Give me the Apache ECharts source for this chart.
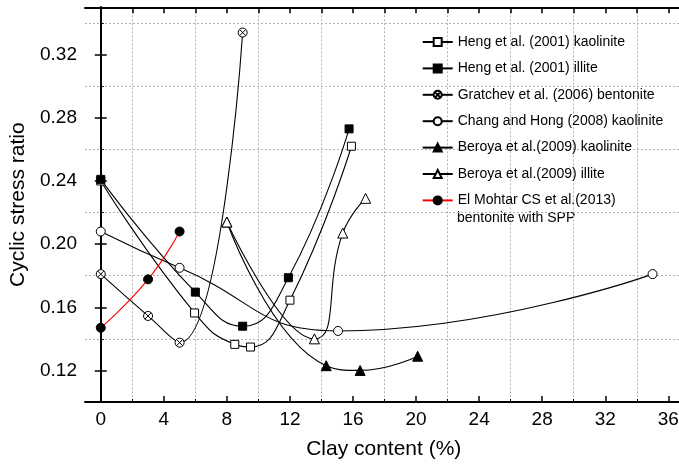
<!DOCTYPE html>
<html>
<head>
<meta charset="utf-8">
<script src="https://cdn.jsdelivr.net/npm/echarts@6/dist/echarts.min.js"></script>
<style>
  html, body { margin: 0; padding: 0; background: #fff; }
  #chart { width: 679px; height: 464px; }
</style>
</head>
<body>
<div id="chart"></div>
<script>
// axis ticks
const xLabelTicks = [0, 4, 8, 12, 16, 20, 24, 28, 32, 36];
const xTopTicks = [0, 2, 4, 6, 8, 10, 12, 14, 16, 18, 20, 22, 24, 26, 28, 30, 32, 34, 36];
const xGridLines = [2, 6, 10, 14, 18, 22, 26, 30, 34];
const yLabelTicks = [0.12, 0.16, 0.20, 0.24, 0.28, 0.32];
const yGridLines = [0.14, 0.18, 0.22, 0.26, 0.30, 0.34];

// series data (clay content %, cyclic stress ratio)
const hengKaoX = [0, 5.95, 8.5, 9.5, 12, 15.9];
const hengKaoY = [0.240, 0.1564, 0.1365, 0.1348, 0.1645, 0.262];
const hengIllX = [0, 6, 9, 11.9, 15.75];
const hengIllY = [0.241, 0.1696, 0.148, 0.1787, 0.273];
const gratchevX = [0, 3, 5, 9];
const gratchevY = [0.181, 0.1545, 0.1376, 0.334];
const changX = [0, 5, 15.05, 35];
const changY = [0.208, 0.185, 0.145, 0.181];
const beroyaKaoX = [8, 14.3, 16.45, 20.1];
const beroyaKaoY = [0.214, 0.123, 0.120, 0.129];
const beroyaIllX = [8, 13.55, 15.35, 16.8];
const beroyaIllY = [0.214, 0.140, 0.207, 0.229];
const elMohtarX = [0, 3, 5];
const elMohtarY = [0.147, 0.1777, 0.208];

const names = [
  'Heng et al. (2001) kaolinite',
  'Heng et al. (2001) illite',
  'Gratchev et al. (2006) bentonite',
  'Chang and Hong (2008) kaolinite',
  'Beroya et al.(2009) kaolinite',
  'Beroya et al.(2009) illite',
  'El Mohtar CS et al.(2013)'
];
const lastLegendLine2 = 'bentonite with SPP';

const font = 'Liberation Sans, Arial, sans-serif';
const crossCircle = 'path://M10,0A10,10,0,1,1,-10,0A10,10,0,1,1,10,0ZM7.07,7.07L-7.07,-7.07M-7.07,7.07L7.07,-7.07';

function pairs (xs, ys) {
  return xs.map((x, i) => [x, ys[i]]);
}

function makeSeries (name, xs, ys, symbol, size, fill, lineColor) {
  return {
    name: name,
    type: 'line',
    xAxisIndex: 0,
    yAxisIndex: 0,
    smooth: true,
    data: pairs(xs, ys),
    symbol: symbol,
    symbolSize: size,
    showAllSymbol: true,
    lineStyle: { color: lineColor || '#000', width: 1.1 },
    itemStyle: { color: fill, borderColor: '#000', borderWidth: 1 },
    emphasis: { disabled: true },
    z: 3
  };
}

const chart = echarts.init(document.getElementById('chart'));
const option = {
  backgroundColor: '#fff',
  animation: false,
  grid: { left: 85, right: -3.5, top: 7.3, bottom: 62, containLabel: false, outerBoundsMode: 'none' },
  legend: {
    orient: 'vertical',
    left: 421.7,
    top: 35,
    padding: 0,
    itemWidth: 30,
    itemHeight: 10,
    itemGap: 12.4,
    textStyle: { fontSize: 14, color: '#000', fontFamily: font },
    data: names
  },
  graphic: [{
    type: 'text',
    left: 457,
    top: 211,
    style: { text: lastLegendLine2, fontSize: 14, fill: '#000', fontFamily: font }
  }],
  xAxis: [
    {
      type: 'value', position: 'bottom', min: -1, max: 36.9,
      axisLine: { lineStyle: { color: '#000', width: 2 } },
      axisTick: { inside: true, length: 6, lineStyle: { color: '#000', width: 1.5 }, customValues: xLabelTicks },
      axisLabel: { customValues: xLabelTicks, fontSize: 19, color: '#000', fontFamily: font, margin: 8 },
      splitLine: { show: false },
      name: 'Clay content (%)', nameLocation: 'middle', nameGap: 37,
      nameTextStyle: { fontSize: 21, color: '#000', fontFamily: font }
    },
    {
      type: 'value', position: 'top', min: -1, max: 36.9,
      axisLine: { lineStyle: { color: '#000', width: 2 } },
      axisTick: { inside: true, length: 6, lineStyle: { color: '#000', width: 1.5 }, customValues: xTopTicks },
      axisLabel: { show: false },
      splitLine: { show: false }
    },
    {
      type: 'value', position: 'bottom', min: -1, max: 36.9,
      axisLine: { show: false },
      axisTick: { inside: true, length: 3, lineStyle: { color: '#000', width: 1 }, customValues: xGridLines },
      axisLabel: { show: false },
      splitLine: { show: true, lineStyle: { color: '#b4b4b4', width: 1, type: [2, 2] } }
    }
  ],
  yAxis: [
    {
      type: 'value', position: 'left', min: 0.10, max: 0.35,
      axisLine: { lineStyle: { color: '#000', width: 2 } },
      axisTick: { inside: true, length: 6, lineStyle: { color: '#000', width: 1.5 }, customValues: yLabelTicks },
      axisLabel: { customValues: yLabelTicks, fontSize: 19, color: '#000', fontFamily: font, margin: 8,
        formatter: v => v.toFixed(2) },
      splitLine: { show: false },
      name: 'Cyclic stress ratio', nameLocation: 'middle', nameGap: 55, nameRotate: 90,
      nameTextStyle: { fontSize: 21, color: '#000', fontFamily: font }
    },
    {
      type: 'value', position: 'right', min: 0.10, max: 0.35,
      axisLine: { lineStyle: { color: '#000', width: 2 } },
      axisTick: { inside: true, length: 6, lineStyle: { color: '#000', width: 1.5 }, customValues: yLabelTicks },
      axisLabel: { show: false },
      splitLine: { show: false }
    },
    {
      type: 'value', position: 'left', min: 0.10, max: 0.35,
      axisLine: { show: false },
      axisTick: { inside: true, length: 3, lineStyle: { color: '#000', width: 1 }, customValues: yGridLines },
      axisLabel: { show: false },
      splitLine: { show: true, lineStyle: { color: '#b4b4b4', width: 1, type: [2, 2] } }
    }
  ],
  series: [
    makeSeries(names[0], hengKaoX, hengKaoY, 'rect', 8, '#fff'),
    makeSeries(names[1], hengIllX, hengIllY, 'rect', 8, '#000'),
    makeSeries(names[2], gratchevX, gratchevY, crossCircle, 9, '#fff'),
    makeSeries(names[3], changX, changY, 'circle', 9, '#fff'),
    makeSeries(names[4], beroyaKaoX, beroyaKaoY, 'triangle', 10, '#000'),
    makeSeries(names[5], beroyaIllX, beroyaIllY, 'triangle', 10, '#fff'),
    makeSeries(names[6], elMohtarX, elMohtarY, 'circle', 9, '#000', '#ff0000')
  ]
};
chart.setOption(option);
</script>
</body>
</html>
